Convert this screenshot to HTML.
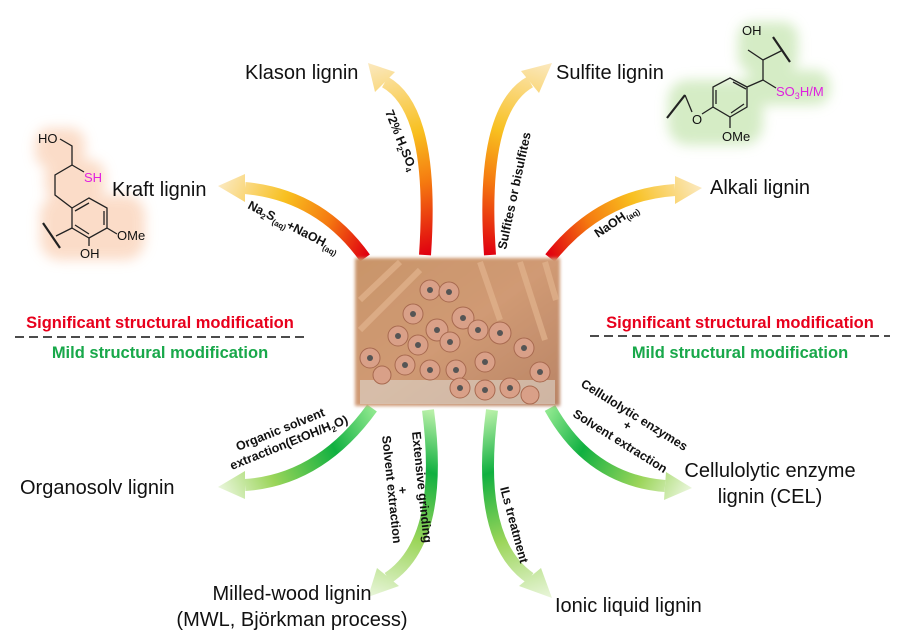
<!DOCTYPE html>
<html><head><meta charset="utf-8"><style>
body{margin:0;background:#fff;}
svg{display:block;font-family:"Liberation Sans",Arial,sans-serif;}
.lb{font-size:20px;fill:#111;}
.sm{font-size:12.5px;font-weight:bold;fill:#111;}
.ch{font-size:13px;fill:#111;}
</style></head><body>
<svg width="900" height="641" viewBox="0 0 900 641">
<defs>
<filter id="glow" x="-30%" y="-30%" width="160%" height="160%"><feGaussianBlur stdDeviation="6"/></filter>
<filter id="soft"><feGaussianBlur stdDeviation="1.5"/></filter>
<linearGradient id="photo" x1="0" y1="0" x2="1" y2="1">
<stop offset="0" stop-color="#c9956a"/><stop offset="0.5" stop-color="#d09a74"/><stop offset="1" stop-color="#b98466"/></linearGradient>
</defs>

<!-- glows -->
<g filter="url(#glow)" fill="#fbd9c3" opacity="0.9">
<rect x="35" y="128" width="50" height="40" rx="15"/>
<rect x="45" y="160" width="60" height="40" rx="15"/>
<rect x="40" y="195" width="105" height="65" rx="20"/>
</g>
<g filter="url(#glow)" fill="#d3ebc2" opacity="0.95">
<rect x="738" y="22" width="60" height="50" rx="15"/>
<rect x="745" y="70" width="85" height="35" rx="15"/>
<rect x="668" y="80" width="95" height="65" rx="20"/>
</g>

<!-- Kraft structure -->
<g stroke="#222" stroke-width="1.3" fill="none">
<path d="M60,139 L72,146 L72,165 L55,175 L55,195 L72,208"/>
<path d="M72,208 L89,198 L107,208 L107,228 L89,238 L72,228 Z"/>
<path d="M75,211 L89,203 M104,211 L104,225 M89,234 L75,225"/>
<path d="M72,165 L84,172"/>
<path d="M72,228 L56,236"/>
<path d="M107,228 L117,234"/>
<path d="M89,238 L89,246"/>
<path d="M43,223 L60,248" stroke-width="2.2"/>
</g>
<text x="38" y="143" class="ch">HO</text>
<text x="84" y="182" class="ch" style="fill:#e020e0">SH</text>
<text x="117" y="240" class="ch">OMe</text>
<text x="80" y="258" class="ch">OH</text>

<!-- Sulfite structure -->
<g stroke="#222" stroke-width="1.3" fill="none">
<path d="M748,50 L763,60 L783,50 M763,60 L763,80"/>
<path d="M763,80 L747,87 M747,87 L730,78 L713,87 L713,107 L730,117 L747,107 Z"/>
<path d="M733,82 L746,89 M716,90 L716,104 M744,104 L731,113"/>
<path d="M763,80 L776,88"/>
<path d="M713,107 L702,114"/>
<path d="M730,117 L730,128"/>
<path d="M773,37 L790,62 M667,118 L685,95" stroke-width="2.2"/>
<path d="M685,95 L692,112"/>
</g>
<text x="742" y="35" class="ch">OH</text>
<text x="776" y="96" class="ch" style="fill:#e020e0">SO<tspan font-size="9" dy="3">3</tspan><tspan dy="-3">H/M</tspan></text>
<text x="692" y="124" class="ch">O</text>
<text x="722" y="141" class="ch">OMe</text>

<defs>
<linearGradient id="gK" gradientUnits="userSpaceOnUse" x1="425" y1="255" x2="368" y2="63"><stop offset="0" stop-color="#e00010"/><stop offset="0.35" stop-color="#f57a10"/><stop offset="0.6" stop-color="#f8c020"/><stop offset="1" stop-color="#fbe9c0"/></linearGradient>
<linearGradient id="gS" gradientUnits="userSpaceOnUse" x1="490" y1="255" x2="552" y2="63"><stop offset="0" stop-color="#e00010"/><stop offset="0.35" stop-color="#f57a10"/><stop offset="0.6" stop-color="#f8c020"/><stop offset="1" stop-color="#fbe9c0"/></linearGradient>
<linearGradient id="gKr" gradientUnits="userSpaceOnUse" x1="365" y1="258" x2="218" y2="186"><stop offset="0" stop-color="#e00010"/><stop offset="0.3" stop-color="#f57a10"/><stop offset="0.6" stop-color="#f8c020"/><stop offset="1" stop-color="#fbe9c0"/></linearGradient>
<linearGradient id="gA" gradientUnits="userSpaceOnUse" x1="550" y1="258" x2="702" y2="188"><stop offset="0" stop-color="#e00010"/><stop offset="0.3" stop-color="#f57a10"/><stop offset="0.6" stop-color="#f8c020"/><stop offset="1" stop-color="#fbe9c0"/></linearGradient>
<linearGradient id="gO" gradientUnits="userSpaceOnUse" x1="372" y1="408" x2="218" y2="487"><stop offset="0" stop-color="#8ee88e"/><stop offset="0.3" stop-color="#10b040"/><stop offset="0.7" stop-color="#9bd55a"/><stop offset="1" stop-color="#eaf6dc"/></linearGradient>
<linearGradient id="gM" gradientUnits="userSpaceOnUse" x1="428" y1="410" x2="368" y2="597"><stop offset="0" stop-color="#b8f0a8"/><stop offset="0.3" stop-color="#10b040"/><stop offset="0.65" stop-color="#9bd55a"/><stop offset="1" stop-color="#eaf6dc"/></linearGradient>
<linearGradient id="gI" gradientUnits="userSpaceOnUse" x1="492" y1="410" x2="552" y2="598"><stop offset="0" stop-color="#b8f0a8"/><stop offset="0.3" stop-color="#10b040"/><stop offset="0.65" stop-color="#9bd55a"/><stop offset="1" stop-color="#eaf6dc"/></linearGradient>
<linearGradient id="gC" gradientUnits="userSpaceOnUse" x1="550" y1="408" x2="692" y2="488"><stop offset="0" stop-color="#8ee88e"/><stop offset="0.3" stop-color="#10b040"/><stop offset="0.7" stop-color="#9bd55a"/><stop offset="1" stop-color="#eaf6dc"/></linearGradient>
</defs>

<g fill="none" stroke-width="12">
<path d="M425,255 Q435,110 385,82" stroke="url(#gK)"/>
<polygon points="368,63 395,72 375,92" fill="url(#gK)" stroke="none"/>
<path d="M490,255 Q480,110 530,82" stroke="url(#gS)"/>
<polygon points="552,63 539,93 521,71" fill="url(#gS)" stroke="none"/>
<path d="M365,258 Q320,195 245,188" stroke="url(#gKr)"/>
<polygon points="218,186 245,202 245,174" fill="url(#gKr)" stroke="none"/>
<path d="M550,258 Q600,195 675,190" stroke="url(#gA)"/>
<polygon points="702,188 675,204 675,176" fill="url(#gA)" stroke="none"/>
<path d="M372,408 Q320,480 245,485" stroke="url(#gO)"/>
<polygon points="218,487 245,499 245,471" fill="url(#gO)" stroke="none"/>
<path d="M428,410 Q445,540 388,578" stroke="url(#gM)"/>
<polygon points="368,597 399,586 377,568" fill="url(#gM)" stroke="none"/>
<path d="M492,410 Q475,540 530,578" stroke="url(#gI)"/>
<polygon points="552,598 541,568 519,586" fill="url(#gI)" stroke="none"/>
<path d="M550,408 Q590,480 665,486" stroke="url(#gC)"/>
<polygon points="692,488 664,500 666,472" fill="url(#gC)" stroke="none"/>
</g>

<!-- photo -->
<g>
<rect x="355" y="258" width="205" height="148" fill="url(#photo)" filter="url(#soft)"/>
<g stroke="#e2b48e" stroke-width="6" opacity="0.7">
<line x1="360" y1="300" x2="400" y2="262"/><line x1="360" y1="330" x2="420" y2="270"/><line x1="480" y1="262" x2="500" y2="320"/><line x1="520" y1="262" x2="545" y2="340"/><line x1="545" y1="262" x2="556" y2="300"/>
</g>
<rect x="360" y="380" width="195" height="24" fill="#dcd6cc" opacity="0.6"/>
<g fill="#d9a088" stroke="#a86a50" stroke-width="1">
<circle cx="430" cy="290" r="10"/><circle cx="449" cy="292" r="10"/><circle cx="413" cy="314" r="10"/><circle cx="463" cy="318" r="11"/><circle cx="437" cy="330" r="11"/><circle cx="500" cy="333" r="11"/><circle cx="478" cy="330" r="10"/><circle cx="398" cy="336" r="10"/><circle cx="418" cy="345" r="10"/><circle cx="450" cy="342" r="10"/><circle cx="524" cy="348" r="10"/><circle cx="370" cy="358" r="10"/><circle cx="405" cy="365" r="10"/><circle cx="430" cy="370" r="10"/><circle cx="456" cy="370" r="10"/><circle cx="485" cy="362" r="10"/><circle cx="540" cy="372" r="10"/><circle cx="382" cy="375" r="9"/><circle cx="460" cy="388" r="10"/><circle cx="485" cy="390" r="10"/><circle cx="510" cy="388" r="10"/><circle cx="530" cy="395" r="9"/>
</g>
<g fill="#555">
<circle cx="430" cy="290" r="3"/><circle cx="449" cy="292" r="3"/><circle cx="413" cy="314" r="3"/><circle cx="463" cy="318" r="3"/><circle cx="437" cy="330" r="3"/><circle cx="500" cy="333" r="3"/><circle cx="478" cy="330" r="3"/><circle cx="398" cy="336" r="3"/><circle cx="418" cy="345" r="3"/><circle cx="450" cy="342" r="3"/><circle cx="524" cy="348" r="3"/><circle cx="370" cy="358" r="3"/><circle cx="405" cy="365" r="3"/><circle cx="430" cy="370" r="3"/><circle cx="456" cy="370" r="3"/><circle cx="485" cy="362" r="3"/><circle cx="540" cy="372" r="3"/><circle cx="460" cy="388" r="3"/><circle cx="485" cy="390" r="3"/><circle cx="510" cy="388" r="3"/>
</g>
</g>

<!-- main labels -->
<text x="245" y="79" class="lb">Klason lignin</text>
<text x="556" y="79" class="lb">Sulfite lignin</text>
<text x="112" y="196" class="lb">Kraft lignin</text>
<text x="710" y="194" class="lb">Alkali lignin</text>
<text x="20" y="494" class="lb">Organosolv lignin</text>
<text x="770" y="477" class="lb" text-anchor="middle">Cellulolytic enzyme</text>
<text x="770" y="503" class="lb" text-anchor="middle">lignin (CEL)</text>
<text x="292" y="600" class="lb" text-anchor="middle">Milled-wood lignin</text>
<text x="292" y="626" class="lb" text-anchor="middle">(MWL, Björkman process)</text>
<text x="555" y="612" class="lb">Ionic liquid lignin</text>

<!-- arrow labels -->
<text class="sm" transform="translate(385,112) rotate(68)">72% H<tspan font-size="8" dy="3">2</tspan><tspan dy="-3">SO</tspan><tspan font-size="8" dy="3">4</tspan></text>
<text class="sm" transform="translate(506,250) rotate(-78)">Sulfites or bisulfites</text>
<text class="sm" transform="translate(247,208) rotate(27)">Na<tspan font-size="8" dy="3">2</tspan><tspan dy="-3">S</tspan><tspan font-size="8" dy="3">(aq)</tspan><tspan dy="-3">+NaOH</tspan><tspan font-size="8" dy="3">(aq)</tspan></text>
<text class="sm" transform="translate(598,238) rotate(-34)">NaOH<tspan font-size="8" dy="3">(aq)</tspan></text>
<text class="sm" transform="translate(238,451) rotate(-22)">Organic solvent</text>
<text class="sm" transform="translate(232,470) rotate(-22)">extraction(EtOH/H<tspan font-size="8" dy="3">2</tspan><tspan dy="-3">O)</tspan></text>
<text class="sm" transform="translate(412,432) rotate(84)">Extensive grinding</text>
<text class="sm" transform="translate(398,487) rotate(84)">+</text>
<text class="sm" transform="translate(382,436) rotate(84)">Solvent extraction</text>
<text class="sm" transform="translate(500,488) rotate(75)">ILs treatment</text>
<text class="sm" transform="translate(580,386) rotate(32)">Cellulolytic enzymes</text>
<text class="sm" transform="translate(622,427) rotate(32)">+</text>
<text class="sm" transform="translate(572,416) rotate(32)">Solvent extraction</text>

<!-- modification texts -->
<g font-weight="bold" font-size="16.5">
<text x="160" y="328" text-anchor="middle" fill="#e8001c">Significant structural modification</text>
<text x="160" y="358" text-anchor="middle" fill="#18a84a">Mild structural modification</text>
<text x="740" y="328" text-anchor="middle" fill="#e8001c">Significant structural modification</text>
<text x="740" y="358" text-anchor="middle" fill="#18a84a">Mild structural modification</text>
</g>
<line x1="15" y1="337" x2="306" y2="337" stroke="#111" stroke-width="1.5" stroke-dasharray="9,5"/>
<line x1="590" y1="336" x2="890" y2="336" stroke="#111" stroke-width="1.5" stroke-dasharray="9,5"/>
</svg>
</body></html>
